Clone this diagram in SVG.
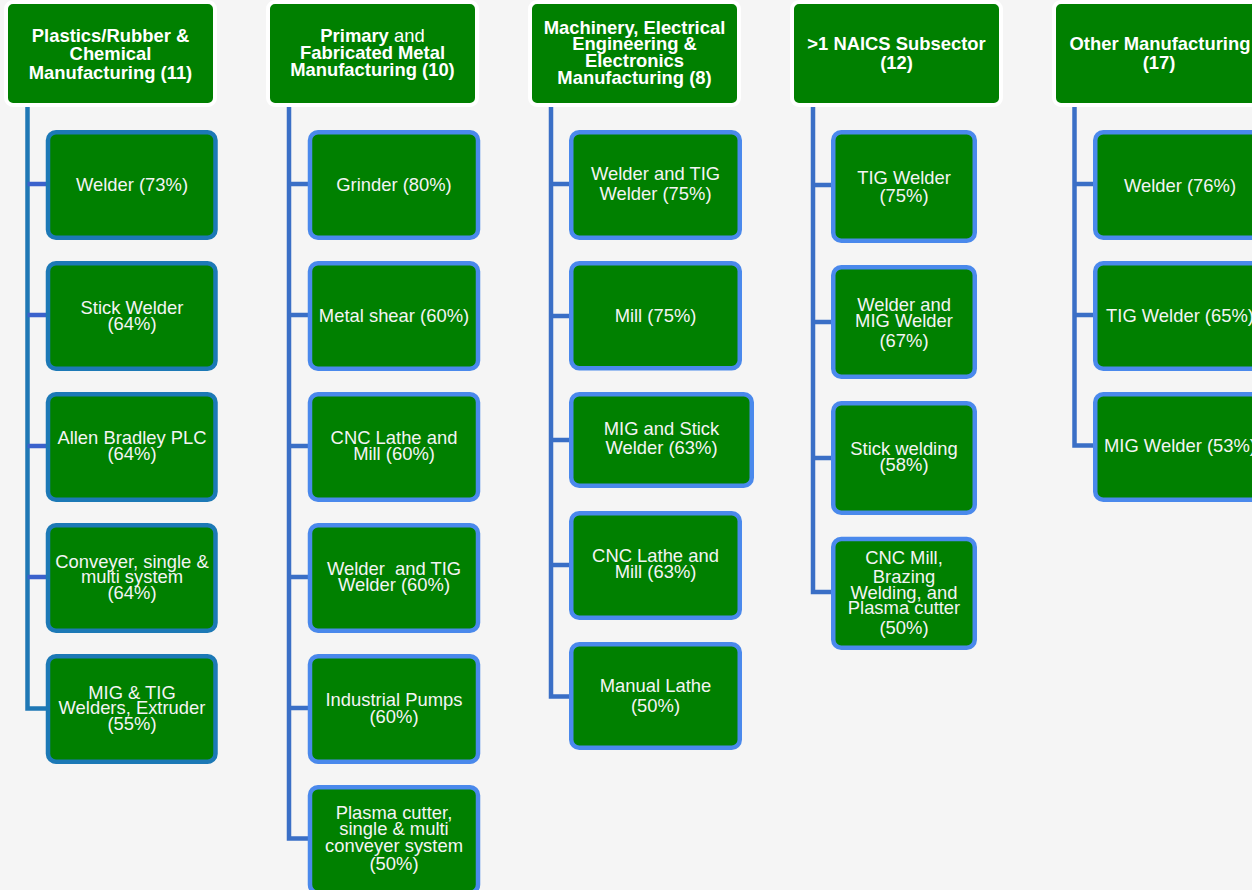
<svg xmlns="http://www.w3.org/2000/svg" width="1252" height="890" viewBox="0 0 1252 890">
<style>
.hdr{fill:#008000;stroke:#ffffff;stroke-width:4}
.box{fill:#008000;stroke:#4a89ec;stroke-width:4.5}
.box1{fill:#008000;stroke:#1c79b6;stroke-width:4.5}
.ht{font-family:"Liberation Sans",Arial,sans-serif;font-size:18.4px;font-weight:bold;fill:#ffffff;text-anchor:middle}
.ct{font-family:"Liberation Sans",Arial,sans-serif;font-size:18.4px;fill:#f4f4f4;text-anchor:middle}
.rg{font-weight:normal}
.ln{fill:none;stroke:#3a6fc6;stroke-width:4.5;stroke-linejoin:miter}
.ln1{fill:none;stroke:#1f78b5;stroke-width:4.5}
.st1{fill:none;stroke:#3a62cc;stroke-width:4.5}
</style>
<rect x="0" y="0" width="1252" height="890" fill="#f5f5f5"/>
<g id="connectors">
  <path class="ln1" d="M27.5,106 V708.5 H46"/>
  <path class="st1" d="M27.5,184 H46 M27.5,315 H46 M27.5,446 H46 M27.5,577 H46"/>
  <path class="ln" d="M289,106 V838.5 H308 M289,184 H308 M289,315 H308 M289,446 H308 M289,577 H308 M289,708 H308"/>
  <path class="ln" d="M551,106 V696.5 H569 M551,184 H569 M551,316 H569 M551,440 H569 M551,565 H569"/>
  <path class="ln" d="M813,106 V592 H831 M813,185 H831 M813,322 H831 M813,458 H831"/>
  <path class="ln" d="M1074.5,106 V445.5 H1093 M1074.5,184 H1093 M1074.5,315 H1093"/>
</g>
<g id="h1"><rect class="hdr" x="6" y="2" width="209" height="103" rx="7"/>
<text class="ht" x="110.5" y="41.5">Plastics/Rubber &amp;</text><text class="ht" x="110.5" y="60">Chemical</text><text class="ht" x="110.5" y="79">Manufacturing (11)</text></g>
<g id="h2"><rect class="hdr" x="268" y="2" width="209" height="103" rx="7"/>
<text class="ht" x="372.5" y="41.5">Primary<tspan class="rg"> and</tspan></text><text class="ht" x="372.5" y="58.5">Fabricated Metal</text><text class="ht" x="372.5" y="76">Manufacturing (10)</text></g>
<g id="h3"><rect class="hdr" x="530" y="2" width="209" height="103" rx="7"/>
<text class="ht" x="634.5" y="33.5">Machinery, Electrical</text><text class="ht" x="634.5" y="50">Engineering &amp;</text><text class="ht" x="634.5" y="66.5">Electronics</text><text class="ht" x="634.5" y="83.5">Manufacturing (8)</text></g>
<g id="h4"><rect class="hdr" x="792" y="2" width="209" height="103" rx="7"/>
<text class="ht" x="896.5" y="50">&gt;1 NAICS Subsector</text><text class="ht" x="896.5" y="69">(12)</text></g>
<g id="h5"><rect class="hdr" x="1054" y="2" width="209" height="103" rx="7"/>
<text class="ht" x="1160" y="50">Other Manufacturing</text><text class="ht" x="1159" y="69">(17)</text></g>

<g id="c1a"><rect class="box1" x="48" y="132.25" width="167.5" height="105.5" rx="8"/><text class="ct" x="132" y="190.5">Welder (73%)</text></g>
<g id="c1b"><rect class="box1" x="48" y="263.25" width="167.5" height="105.5" rx="8"/><text class="ct" x="132" y="313.5">Stick Welder</text><text class="ct" x="132" y="330">(64%)</text></g>
<g id="c1c"><rect class="box1" x="48" y="394.25" width="167.5" height="105.5" rx="8"/><text class="ct" x="132" y="444">Allen Bradley PLC</text><text class="ct" x="132" y="460">(64%)</text></g>
<g id="c1d"><rect class="box1" x="48" y="525.25" width="167.5" height="105.5" rx="8"/><text class="ct" x="132" y="568">Conveyer, single &amp;</text><text class="ct" x="132" y="583">multi system</text><text class="ct" x="132" y="598.5">(64%)</text></g>
<g id="c1e"><rect class="box1" x="48" y="656.25" width="167.5" height="105.5" rx="8"/><text class="ct" x="132" y="698.5">MIG &amp; TIG</text><text class="ct" x="132" y="713.5">Welders, Extruder</text><text class="ct" x="132" y="730">(55%)</text></g>

<g id="c2a"><rect class="box" x="310" y="132.25" width="168" height="105.5" rx="8"/><text class="ct" x="394" y="191">Grinder (80%)</text></g>
<g id="c2b"><rect class="box" x="310" y="263.25" width="168" height="105.5" rx="8"/><text class="ct" x="394" y="321.5">Metal shear (60%)</text></g>
<g id="c2c"><rect class="box" x="310" y="394.25" width="168" height="105.5" rx="8"/><text class="ct" x="394" y="444">CNC Lathe and</text><text class="ct" x="394" y="460">Mill (60%)</text></g>
<g id="c2d"><rect class="box" x="310" y="525.25" width="168" height="105.5" rx="8"/><text class="ct" x="394" y="575" xml:space="preserve">Welder  and TIG</text><text class="ct" x="394" y="591">Welder (60%)</text></g>
<g id="c2e"><rect class="box" x="310" y="656.25" width="168" height="105.5" rx="8"/><text class="ct" x="394" y="706">Industrial Pumps</text><text class="ct" x="394" y="722.5">(60%)</text></g>
<g id="c2f"><rect class="box" x="310" y="787.25" width="168" height="105.5" rx="8"/><text class="ct" x="394" y="818.5">Plasma cutter,</text><text class="ct" x="394" y="835">single &amp; multi</text><text class="ct" x="394" y="851.5">conveyer system</text><text class="ct" x="394" y="870">(50%)</text></g>

<g id="c3a"><rect class="box" x="571.25" y="132.25" width="168.5" height="105.5" rx="8"/><text class="ct" x="655.5" y="180">Welder and TIG</text><text class="ct" x="655.5" y="199.5">Welder (75%)</text></g>
<g id="c3b"><rect class="box" x="571.25" y="263.25" width="168.5" height="105" rx="8"/><text class="ct" x="655.5" y="321.5">Mill (75%)</text></g>
<g id="c3c"><rect class="box" x="571.25" y="394.25" width="180.5" height="91.5" rx="8"/><text class="ct" x="661.5" y="435">MIG and Stick</text><text class="ct" x="661.5" y="454">Welder (63%)</text></g>
<g id="c3d"><rect class="box" x="571.25" y="513.25" width="168.5" height="104.5" rx="8"/><text class="ct" x="655.5" y="561.5">CNC Lathe and</text><text class="ct" x="655.5" y="578">Mill (63%)</text></g>
<g id="c3e"><rect class="box" x="571.25" y="644.25" width="168.5" height="103.5" rx="8"/><text class="ct" x="655.5" y="691.5">Manual Lathe</text><text class="ct" x="655.5" y="711.5">(50%)</text></g>

<g id="c4a"><rect class="box" x="833.25" y="132.25" width="141.5" height="108.5" rx="8"/><text class="ct" x="904" y="183.5">TIG Welder</text><text class="ct" x="904" y="201.5">(75%)</text></g>
<g id="c4b"><rect class="box" x="833.25" y="267.25" width="141.5" height="109.5" rx="8"/><text class="ct" x="904" y="311">Welder and</text><text class="ct" x="904" y="326.5">MIG Welder</text><text class="ct" x="904" y="346.5">(67%)</text></g>
<g id="c4c"><rect class="box" x="833.25" y="403.25" width="141.5" height="109.5" rx="8"/><text class="ct" x="904" y="455">Stick welding</text><text class="ct" x="904" y="470.5">(58%)</text></g>
<g id="c4d"><rect class="box" x="833.25" y="539" width="141.5" height="108.75" rx="8"/><text class="ct" x="904" y="563.5">CNC Mill,</text><text class="ct" x="904" y="583">Brazing</text><text class="ct" x="904" y="598.5">Welding, and</text><text class="ct" x="904" y="613.5">Plasma cutter</text><text class="ct" x="904" y="634">(50%)</text></g>

<g id="c5a"><rect class="box" x="1095.25" y="132.25" width="170" height="105.5" rx="8"/><text class="ct" x="1180" y="191.5">Welder (76%)</text></g>
<g id="c5b"><rect class="box" x="1095.25" y="263.25" width="170" height="105.5" rx="8"/><text class="ct" x="1180" y="321.5">TIG Welder (65%)</text></g>
<g id="c5c"><rect class="box" x="1095.25" y="394.25" width="170" height="105.5" rx="8"/><text class="ct" x="1180" y="451.5">MIG Welder (53%)</text></g>
</svg>
